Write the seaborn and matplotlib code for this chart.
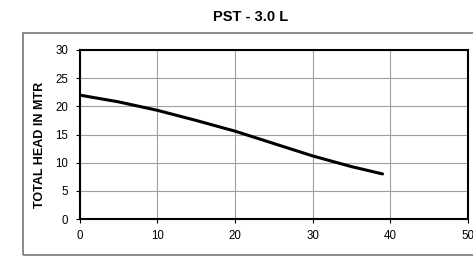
import matplotlib
matplotlib.use("Agg")
import matplotlib.pyplot as plt
import seaborn as sns
import pandas as pd
from matplotlib.patches import Rectangle

# discharge (LPM) vs total head (m)
flow = [0, 5, 10, 15, 20, 25, 30, 35, 39]
head = [22.0, 20.8, 19.3, 17.5, 15.6, 13.4, 11.2, 9.3, 8.0]
x_ticks = [0, 10, 20, 30, 40, 50]
y_ticks = [0, 5, 10, 15, 20, 25, 30]

sns.set_style("white")
plt.rcParams['font.family'] = ['Liberation Sans', 'DejaVu Sans']
plt.rcParams['text.color'] = 'black'
plt.rcParams['xtick.color'] = 'black'
plt.rcParams['ytick.color'] = 'black'

df = pd.DataFrame({"flow": flow, "head": head})

fig = plt.figure(figsize=(4.73, 2.63), dpi=100)
fig.patches.append(Rectangle((22.5 / 473, 8 / 263), 1.2, 222.5 / 263,
                             transform=fig.transFigure, fill=False,
                             edgecolor="#777777", linewidth=1.2))
ax = fig.add_axes([79.5 / 473, 44 / 263, 388.5 / 473, 169 / 263])
sns.lineplot(data=df, x="flow", y="head", ax=ax, color="black", linewidth=2.2)

ax.set_xlim(0, 50)
ax.set_ylim(0, 30)
ax.set_xticks(x_ticks)
ax.set_yticks(y_ticks)
ax.grid(True, color="#a0a0a0", linewidth=0.8)
for s in ax.spines.values():
    s.set_color("black")
    s.set_linewidth(1.5)
ax.tick_params(axis="both", labelsize=8.3, length=3, width=0.8,
               direction="out", left=True, bottom=True)
ax.tick_params(axis="x", pad=5)
ax.tick_params(axis="y", pad=5)
ax.set_xlabel("")
ax.set_ylabel("")

fig.text(251 / 473, 1 - 17 / 263, "PST - 3.0 L", ha="center", va="center",
         fontsize=10.5, fontweight="bold")
fig.text(40 / 473, 1 - 144.5 / 263, "TOTAL HEAD IN MTR", ha="center", va="center",
         rotation=90, fontsize=9, fontweight="bold")

fig.savefig("out.png", dpi=100)
